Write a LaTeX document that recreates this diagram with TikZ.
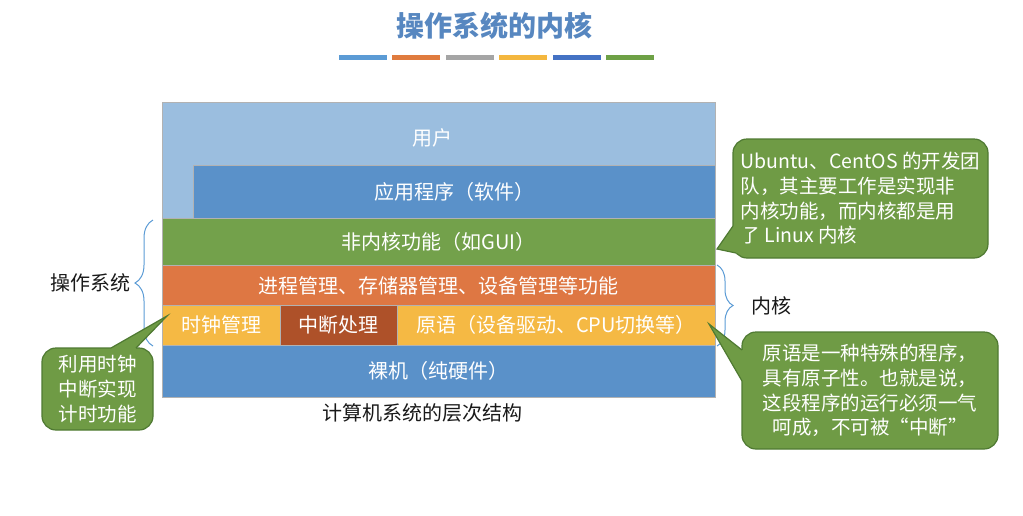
\documentclass[tikz,border=0pt]{standalone}
\usepackage{fontspec}
\setmainfont{Noto Sans CJK SC}
\usetikzlibrary{decorations.pathreplacing}

\definecolor{userblue}{HTML}{9BBEDF}
\definecolor{appblue}{HTML}{5A91C9}
\definecolor{guigreen}{HTML}{73A14B}
\definecolor{kernorange}{HTML}{DE7743}
\definecolor{primyellow}{HTML}{F5B944}
\definecolor{intrred}{HTML}{AE5129}
\definecolor{titleblue}{HTML}{5787C0}
\definecolor{bubblefill}{HTML}{6F9B45}
\definecolor{bubbleedge}{HTML}{4F7A32}
\definecolor{bracecol}{HTML}{5B9BD5}
\definecolor{barblue}{HTML}{5B9BD5}
\definecolor{barorange}{HTML}{E07B3E}
\definecolor{bargrey}{HTML}{A5A5A5}
\definecolor{bargold}{HTML}{F4B73E}
\definecolor{bardark}{HTML}{4472C4}
\definecolor{bargreen}{HTML}{6EA146}

\tikzset{
    layer/.style={draw=black!30, line width=0.5pt, text=white, inner sep=0pt,
        font=\fontsize{20}{24}\selectfont},
    bubble/.style={draw=bubbleedge, line width=1.2pt, fill=bubblefill, text=white,
        rounded corners=14pt, inner sep=0pt, font=\fontsize{19.5}{24.7}\selectfont},
    sidebrace/.style={draw=bracecol, line width=1pt, decorate},
    plaintext/.style={text=black!90, font=\fontsize{20}{24}\selectfont}
}

\begin{document}
\begin{tikzpicture}[x=1pt, y=-1pt]
    \useasboundingbox (0,0) rectangle (1023,515);

    % title and colour bars
    \node[text=titleblue, font=\fontsize{28}{32}\selectfont\bfseries] (title) at (494,26) {操作系统的内核};
    \foreach \i/\c in {0/barblue,1/barorange,2/bargrey,3/bargold,4/bardark,5/bargreen}
    {
        \fill[\c] (339+53.4*\i,55) rectangle (387+53.4*\i,60);
    }

    % layers
    \node[layer, fill=userblue, minimum width=553pt, minimum height=116pt] (userbox) at (438.5,160) {};
    \node[text=white, font=\fontsize{20}{24}\selectfont] (user) at (432,138) {用户};
    \node[layer, fill=appblue, minimum width=522pt, minimum height=53pt] (app) at (454,191.5) {应用程序（软件）};
    \node[layer, fill=guigreen, minimum width=553pt, minimum height=47pt] (gui) at (438.5,241.5) {非内核功能（如GUI）};
    \node[layer, fill=kernorange, minimum width=553pt, minimum height=40pt] (mgmt) at (438.5,285.5) {进程管理、存储器管理、设备管理等功能};
    \node[layer, fill=primyellow, minimum width=118pt, minimum height=40pt] (clock) at (221,325) {时钟管理};
    \node[layer, fill=intrred, minimum width=117pt, minimum height=40pt] (intr) at (338.5,325) {中断处理};
    \node[layer, fill=primyellow, minimum width=318pt, minimum height=40pt] (prim) at (556,325) {原语（设备驱动、CPU切换等）};
    \node[layer, fill=appblue, minimum width=553pt, minimum height=52pt] (hw) at (438.5,371) {裸机（纯硬件）};
    \node[plaintext] (caption) at (422,413) {计算机系统的层次结构};

    % braces
    \draw[sidebrace, decoration={brace, amplitude=18pt}] (153,346) -- (153,220);
    \node[plaintext] (os) at (90,283) {操作系统};
    \draw[sidebrace, decoration={brace, amplitude=16pt}] (717,265) -- (717,346);
    \node[plaintext] (kernel) at (771,306) {内核};

    % callouts
    \node[bubble, minimum width=255pt, minimum height=119pt, align=left] (ubuntu) at (860.5,198.5)
        {Ubuntu、CentOS 的开发团\\队，其主要工作是实现非\\内核功能，而内核都是用\\了 Linux 内核};
    \coordinate (ubuntutip) at (717,249);
    \fill[bubblefill] (733,226) -- (ubuntutip) -- (736,253) -- (745,253) -- (745,226) -- cycle;
    \draw[bubbleedge, line width=1.2pt] (733,226) -- (ubuntutip) -- (736,253);

    \node[bubble, minimum width=256pt, minimum height=117pt, align=center] (atomic) at (870,390.5)
        {原语是一种特殊的程序，\\具有原子性。也就是说，\\这段程序的运行必须一气\\呵成，不可被“中断”};
    \coordinate (atomictip) at (709,324);
    \fill[bubblefill] (742,350) -- (atomictip) -- (742,381) -- (750,381) -- (750,350) -- cycle;
    \draw[bubbleedge, line width=1.2pt] (742,350) -- (atomictip) -- (742,381);

    \node[bubble, minimum width=111pt, minimum height=82pt, align=center] (timer) at (97.5,389)
        {利用时钟\\中断实现\\计时功能};
    \coordinate (timertip) at (167,316);
    \fill[bubblefill] (111,348) -- (timertip) -- (136,348) -- (136,354) -- (111,354) -- cycle;
    \draw[bubbleedge, line width=1.2pt] (111,348) -- (timertip) -- (136,348);
\end{tikzpicture}
\end{document}
